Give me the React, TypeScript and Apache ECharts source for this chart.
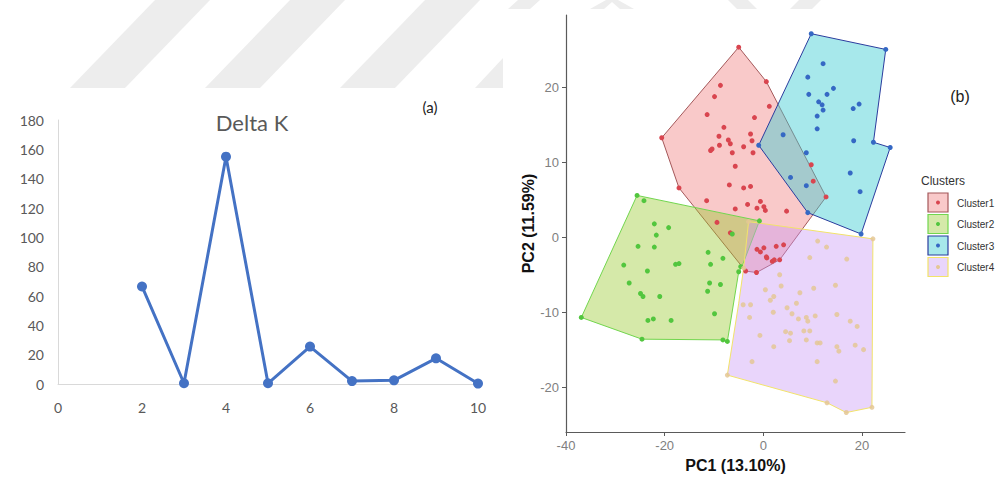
import React, { useEffect, useRef } from "react";
import * as echarts from "echarts";

// Delta K for each number of clusters K
const kValues: number[] = [2, 3, 4, 5, 6, 7, 8, 9, 10];
const deltaK: number[] = [66.5, 0.5, 155, 0.5, 25.5, 2, 2.5, 17.5, 0.3];

// PCA scores [PC1, PC2] for each cluster
const cluster1Points: number[][] = [
  [-5.0, 25.4], [0.6, 20.8], [-20.6, 13.3], [-17.1, 6.6], [12.7, 5.4], [-8.7, 20.3], [-9.9, 18.8],
  [1.2, 17.5], [-11.4, 16.4], [-1.8, 16.0], [-8.0, 14.7], [-9.0, 13.5], [-2.6, 13.8], [-7.1, 13.0],
  [-6.7, 12.5], [-8.9, 12.3], [-2.3, 12.9], [-4.0, 12.1], [-10.4, 11.8], [-10.7, 11.6], [-6.3, 11.3],
  [-2.1, 11.3], [-5.7, 9.5], [-6.9, 7.0], [-4.0, 6.6], [-2.6, 6.8], [-11.5, 4.9], [-3.2, 4.4],
  [-0.6, 4.8], [-1.3, 3.9], [0.4, 3.6], [4.7, 3.5], [-5.7, 3.8], [-9.4, 2.0], [-6.7, 0.6], [0.1, 4.1],
  [10.1, 7.5], [9.7, 9.7], [0.1, -1.4], [-0.6, -1.95], [0.7, -2.75], [1.8, -3.2], [2.6, -1.2],
  [4.1, -1.0], [3.3, -3.0], [-1.4, -4.7], [-3.6, -4.5], [-1.3, -1.6], [0.6, -2.6], [2.2, -3.0],
];
const cluster2Points: number[][] = [
  [-25.6, 5.6], [-24.2, 4.9], [-0.8, 2.2], [-5.0, -4.6], [-7.3, -13.9], [-8.2, -13.7], [-24.6, -13.6],
  [-36.9, -10.7], [-22.1, 1.8], [-19.2, 1.3], [-21.7, 0.3], [-25.4, -1.2], [-22.1, -1.3], [-11.2, -2.0],
  [-8.2, -2.8], [-28.3, -3.7], [-17.8, -3.6], [-17.1, -3.5], [-10.7, -3.6], [-23.5, -4.5], [-27.2, -6.1],
  [-10.9, -6.1], [-8.7, -6.3], [-24.9, -7.5], [-24.4, -7.9], [-21.0, -7.9], [-11.3, -7.2], [-9.9, -10.2],
  [-23.4, -11.1], [-22.3, -10.9], [-18.7, -11.1], [-6.3, 0.45], [-4.6, -3.9],
];
const cluster3Points: number[][] = [
  [9.7, 27.2], [24.8, 25.1], [22.3, 12.7], [25.7, 12.0], [19.8, 0.45], [9.0, 3.3], [-0.95, 12.3],
  [12.1, 23.2], [9.0, 21.4], [14.2, 19.9], [9.2, 19.1], [12.9, 19.1], [11.2, 18.1], [11.9, 17.7],
  [19.4, 17.8], [18.2, 17.2], [12.1, 17.0], [10.9, 16.2], [10.9, 14.5], [4.0, 13.7], [18.3, 12.9],
  [8.7, 11.3], [5.5, 8.0], [17.6, 8.6], [8.7, 6.9], [19.6, 6.1],
];
const cluster4Points: number[][] = [
  [-3.0, 2.1], [22.2, -0.2], [22.0, -22.7], [16.8, -23.4], [12.9, -22.1], [-7.3, -18.4], [11.0, -0.5],
  [12.8, -1.3], [9.4, -2.7], [16.9, -2.9], [3.3, -5.0], [3.6, -6.5], [14.6, -6.4], [0.4, -7.0],
  [10.2, -6.8], [7.4, -7.4], [2.1, -7.9], [1.4, -8.4], [6.7, -8.8], [-4.1, -9.0], [4.8, -9.4],
  [2.0, -10.0], [5.8, -10.2], [14.9, -10.3], [-2.8, -10.7], [7.1, -10.9], [8.7, -10.7], [10.5, -10.5],
  [9.0, -11.2], [17.6, -11.2], [19.0, -11.9], [8.2, -12.5], [9.4, -12.5], [5.5, -12.8], [4.5, -12.6],
  [-0.7, -13.1], [5.3, -13.8], [8.7, -13.7], [10.9, -14.1], [11.5, -14.1], [14.9, -14.6], [15.3, -15.2],
  [18.6, -14.4], [20.3, -15.0], [2.1, -14.6], [-2.3, -16.6], [10.9, -16.6], [14.6, -19.2], [-4.0, -4.1],
  [-2.6, -9.0],
];

// Cluster outlines (vertices in order)
const cluster1Hull: number[][] = [
  [-5.0, 25.4], [0.6, 20.8], [12.7, 5.4], [3.3, -3.0], [-1.4, -4.7], [-3.6, -4.5], [-17.1, 6.6], [-20.6, 13.3],
];
const cluster2Hull: number[][] = [
  [-25.6, 5.6], [-0.8, 2.2], [-4.4, -4.0], [-5.0, -4.6], [-7.3, -13.9], [-8.2, -13.7], [-24.6, -13.6], [-36.9, -10.7],
];
const cluster3Hull: number[][] = [
  [9.7, 27.2], [24.8, 25.1], [22.3, 12.7], [25.7, 12.0], [19.8, 0.45], [9.0, 3.3], [-0.95, 12.3],
];
const cluster4Hull: number[][] = [
  [-3.0, 2.1], [22.2, -0.2], [22.0, -22.7], [16.8, -23.4], [12.9, -22.1], [-7.3, -18.4], [-5.0, -8.8], [-4.0, -4.1],
];

const clusterNames: string[] = ["Cluster1", "Cluster2", "Cluster3", "Cluster4"];
const pc1Ticks: number[] = [-40, -20, 0, 20];
const pc2Ticks: number[] = [-20, -10, 0, 10, 20];

const clusterPoints = [cluster1Points, cluster2Points, cluster3Points, cluster4Points];
const clusterHulls = [cluster1Hull, cluster2Hull, cluster3Hull, cluster4Hull];
const hullFill = [
  "rgba(240,120,120,0.40)",
  "rgba(150,200,40,0.40)",
  "rgba(60,205,210,0.45)",
  "rgba(200,150,245,0.40)",
];
const hullStroke = ["#a4585a", "#72d64e", "#2b3c9e", "#f2e36a"];
const dotColor = ["#d9454f", "#52c63e", "#3568c4", "#e4c795"];

const SANS = "'Liberation Sans', Arial, sans-serif";
const CAL = "Lato, 'Open Sans', sans-serif";

function watermark(): any[] {
  const fill = "#ededed";
  const stripes: number[][][] = [
    [[70, 88], [125, 88], [210, 0], [155, 0]],
    [[205, 88], [260, 88], [345, 0], [290, 0]],
    [[340, 88], [395, 88], [480, 0], [425, 0]],
    [[475, 88], [503, 88], [503, 58]],
    [[508, 9], [530, 9], [540, 0], [518, 0]],
    [[590, 9], [604, 9], [612, 2], [620, 9], [634, 9], [618, 0], [606, 0]],
    [[728, 0], [748, 0], [757, 9], [737, 9]],
    [[790, 9], [812, 9], [821, 0], [799, 0]],
  ];
  return stripes.map((pts) => ({
    type: "polygon",
    silent: true,
    z: -5,
    shape: { points: pts },
    style: { fill },
  }));
}

function legendGraphics(): any[] {
  const out: any[] = [
    {
      type: "text",
      x: 921,
      y: 181,
      style: { text: "Clusters", fill: "#333", font: `12px ${SANS}`, verticalAlign: "middle" },
    },
  ];
  clusterNames.forEach((name, i) => {
    const y0 = 193 + i * 21.5;
    out.push({
      type: "rect",
      shape: { x: 928, y: y0, width: 20, height: 19 },
      style: { fill: hullFill[i], stroke: hullStroke[i], lineWidth: 1.2 },
    });
    out.push({
      type: "circle",
      shape: { cx: 938, cy: y0 + 9.5, r: 2 },
      style: { fill: dotColor[i] },
    });
    out.push({
      type: "text",
      x: 957,
      y: y0 + 10,
      style: { text: name, fill: "#333", font: `10px ${SANS}`, verticalAlign: "middle" },
    });
  });
  return out;
}

export default function App() {
  const ref = useRef<HTMLDivElement>(null);

  useEffect(() => {
    if (!ref.current) return;
    const chart = echarts.init(ref.current, null, { renderer: "svg" });

    const hullSeries = clusterHulls.map((hull, i) => ({
      type: "custom",
      name: clusterNames[i],
      xAxisIndex: 1,
      yAxisIndex: 1,
      silent: true,
      z: 1,
      data: [hull[0]],
      renderItem: (_params: any, api: any) => ({
        type: "polygon",
        shape: { points: hull.map((p) => api.coord(p)) },
        style: { fill: hullFill[i], stroke: hullStroke[i], lineWidth: 1 },
      }),
    }));

    const pointSeries = clusterPoints.map((pts, i) => ({
      type: "scatter",
      name: clusterNames[i],
      xAxisIndex: 1,
      yAxisIndex: 1,
      z: 3,
      symbol: "circle",
      symbolSize: 5,
      itemStyle: { color: dotColor[i], opacity: i === 3 ? 0.85 : 1 },
      data: pts,
    }));

    chart.setOption({
      animation: false,
      backgroundColor: "#ffffff",
      grid: [
        { left: 58, top: 120, width: 420, height: 264 },
        { left: 566, top: 15, width: 339, height: 418 },
      ],
      xAxis: [
        {
          gridIndex: 0,
          type: "value",
          min: 0,
          max: 10,
          interval: 2,
          axisLine: { show: true, lineStyle: { color: "#d9d9d9", width: 1 } },
          axisTick: { show: false },
          splitLine: { show: false },
          axisLabel: { color: "#595959", fontSize: 14, fontFamily: CAL, margin: 16 },
        },
        {
          gridIndex: 1,
          type: "value",
          min: -40,
          max: 28.7,
          axisLine: { show: true, onZero: false, lineStyle: { color: "#5a5a5a", width: 1.2 } },
          axisTick: { show: true, length: 4, customValues: pc1Ticks, lineStyle: { color: "#5a5a5a" } },
          splitLine: { show: false },
          axisLabel: { customValues: pc1Ticks, color: "#808080", fontSize: 13, fontFamily: SANS, margin: 7 },
          name: "PC1 (13.10%)",
          nameLocation: "middle",
          nameGap: 25,
          nameTextStyle: { color: "#111", fontSize: 16, fontWeight: "bold", fontFamily: SANS },
        },
      ],
      yAxis: [
        {
          gridIndex: 0,
          type: "value",
          min: 0,
          max: 180,
          interval: 20,
          axisLine: { show: true, lineStyle: { color: "#d9d9d9", width: 1 } },
          axisTick: { show: false },
          splitLine: { show: false },
          axisLabel: { color: "#595959", fontSize: 14, fontFamily: CAL, margin: 14 },
        },
        {
          gridIndex: 1,
          type: "value",
          min: -26,
          max: 29.7,
          axisLine: { show: true, onZero: false, lineStyle: { color: "#5a5a5a", width: 1.2 } },
          axisTick: { show: true, length: 4, customValues: pc2Ticks, lineStyle: { color: "#5a5a5a" } },
          splitLine: { show: false },
          axisLabel: { customValues: pc2Ticks, color: "#808080", fontSize: 13, fontFamily: SANS, margin: 7 },
          name: "PC2 (11.59%)",
          nameLocation: "middle",
          nameGap: 30,
          nameTextStyle: { color: "#111", fontSize: 16, fontWeight: "bold", fontFamily: SANS },
        },
      ],
      graphic: [
        ...watermark(),
        {
          type: "text",
          x: 252,
          y: 122,
          style: { text: "Delta K", fill: "#595959", font: `22px ${CAL}`, align: "center", verticalAlign: "middle" },
        },
        {
          type: "text",
          x: 430,
          y: 107,
          style: { text: "(a)", fill: "#222", font: `15px ${CAL}`, align: "center", verticalAlign: "middle" },
        },
        {
          type: "text",
          x: 960,
          y: 96,
          style: { text: "(b)", fill: "#222", font: `16px ${SANS}`, align: "center", verticalAlign: "middle" },
        },
        ...legendGraphics(),
      ],
      series: [
        {
          type: "line",
          xAxisIndex: 0,
          yAxisIndex: 0,
          data: kValues.map((k, i) => [k, deltaK[i]]),
          symbol: "circle",
          symbolSize: 10,
          lineStyle: { color: "#4472c4", width: 3 },
          itemStyle: { color: "#4472c4" },
          z: 3,
        },
        ...hullSeries,
        ...pointSeries,
      ],
    });

    return () => chart.dispose();
  }, []);

  return (
    <div
      ref={ref}
      style={{ position: "absolute", left: 0, top: 0, width: 1008, height: 478, background: "#fff" }}
    />
  );
}
